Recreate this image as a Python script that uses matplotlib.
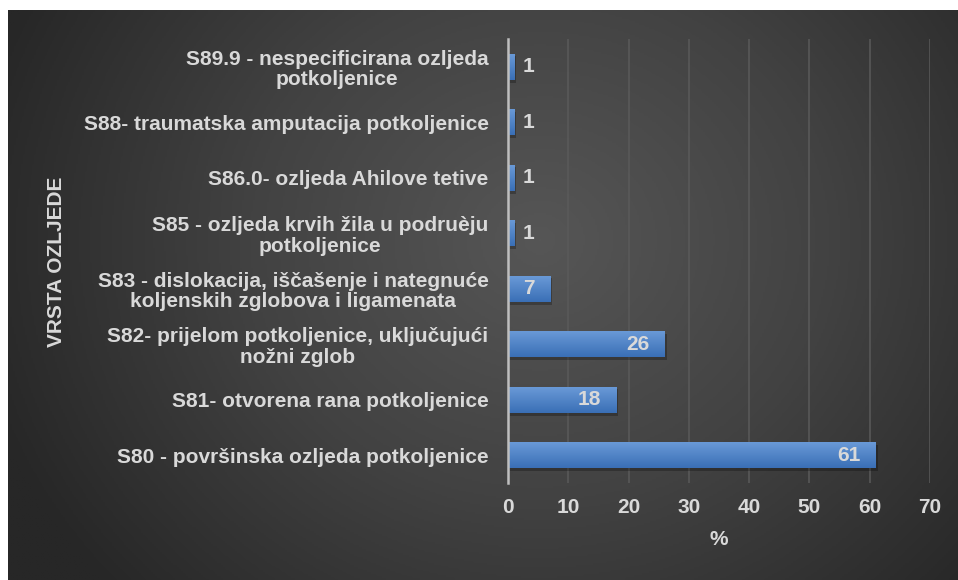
import numpy as np
import matplotlib
matplotlib.use("Agg")
import matplotlib.pyplot as plt
from matplotlib.colors import LinearSegmentedColormap

categories = [
    "S80 - površinska ozljeda potkoljenice",
    "S81- otvorena rana potkoljenice",
    "S82- prijelom potkoljenice, uključujući\nnožni zglob",
    "S83 - dislokacija, iščašenje i nategnuće\nkoljenskih zglobova i ligamenata",
    "S85 - ozljeda krvih žila u podruèju\npotkoljenice",
    "S86.0- ozljeda Ahilove tetive",
    "S88- traumatska amputacija potkoljenice",
    "S89.9 - nespecificirana ozljeda\npotkoljenice",
]
values = [61, 18, 26, 7, 1, 1, 1, 1]
xticks = [0, 10, 20, 30, 40, 50, 60, 70]

plt.rcParams['font.family'] = ['Liberation Sans', 'DejaVu Sans']
plt.rcParams['font.weight'] = 'bold'
TXT = '#d9d9d9'
FS = 15

W, H = 958, 580
fig = plt.figure(figsize=(W/100, H/100), dpi=100)
fig.patch.set_facecolor('white')

# background radial gradient
bg = fig.add_axes([8/W, 0, 1 - 8/W, 1 - 10/H])
bg.set_axis_off()
yy, xx = np.mgrid[0:300, 0:500]
px = xx / 499 * (W - 8) + 8
py = yy / 299 * (H - 10) + 10
cx, cy = 540, 240
r = np.sqrt(((px - cx) / 1.0) ** 2 + ((py - cy) / 0.9) ** 2)
t = np.clip(r / 580, 0, 1)
cmap_bg = LinearSegmentedColormap.from_list('bg', ['#565656', '#424242', '#272727'])
bg.imshow(t, cmap=cmap_bg, aspect='auto', extent=[0, 1, 0, 1], origin='upper', vmin=0, vmax=1)
bg.set_xlim(0, 1); bg.set_ylim(0, 1)

ax = fig.add_axes([508/W, 1 - 483/H, (930 - 508)/W, (483 - 39)/H])
ax.patch.set_alpha(0)
y = np.arange(len(categories))
bh = 0.47

ax.grid(axis='x', color='#5a5a5a', linewidth=1.1, zorder=0)
ax.set_axisbelow(True)

grad = LinearSegmentedColormap.from_list('bar', ['#3a6fb6', '#6b9bd8'])
gimg = np.linspace(0, 1, 64).reshape(-1, 1)
bars = ax.barh(y, values, height=bh, color='#4a80c6', zorder=3)
for b, v in zip(bars, values):
    ax.add_patch(plt.Rectangle((b.get_x() + 0.3, b.get_y() - 0.05), b.get_width(), b.get_height(),
                               color='black', alpha=0.25, zorder=2, linewidth=0))
    im = ax.imshow(gimg, cmap=grad, aspect='auto', origin='lower',
                   extent=[b.get_x(), b.get_x() + b.get_width(), b.get_y(), b.get_y() + b.get_height()],
                   zorder=4)
    im.set_clip_path(b)
ax.set_xlim(0, 70)
ax.set_ylim(-0.5, len(categories) - 0.5)
ax.set_xticks(xticks)

for yi, v in zip(y, values):
    if v >= 5:
        ax.annotate(str(v), (v, yi), xytext=(-11, 0), textcoords='offset points',
                    ha='right', va='center', color=TXT, fontsize=FS, fontweight='bold', zorder=5)
    else:
        ax.annotate(str(v), (v, yi), xytext=(6, 0), textcoords='offset points',
                    ha='left', va='center', color=TXT, fontsize=FS, fontweight='bold', zorder=5)

ax.set_yticks(y)
ax.set_yticklabels(categories)
for lab in ax.get_yticklabels():
    lab.set_multialignment('center')
    lab.set_linespacing(1.1)
ax.tick_params(axis='y', length=0, pad=14, labelsize=FS, labelcolor=TXT)
ax.tick_params(axis='x', length=0, pad=11, labelsize=FS, labelcolor=TXT)
for s in ['top', 'right', 'bottom']:
    ax.spines[s].set_visible(False)
ax.spines['left'].set_color('#bfbfbf')
ax.spines['left'].set_linewidth(1.8)
ax.spines['left'].set_zorder(6)

ax.set_xlabel('%', color=TXT, fontsize=FS, fontweight='bold', labelpad=9)
fig.text(57/W, 1 - 262/H, 'VRSTA OZLJEDE', rotation=90, ha='center', va='center',
         color=TXT, fontsize=FS, fontweight='bold')

fig.savefig('out.png', dpi=100, facecolor=fig.get_facecolor())
